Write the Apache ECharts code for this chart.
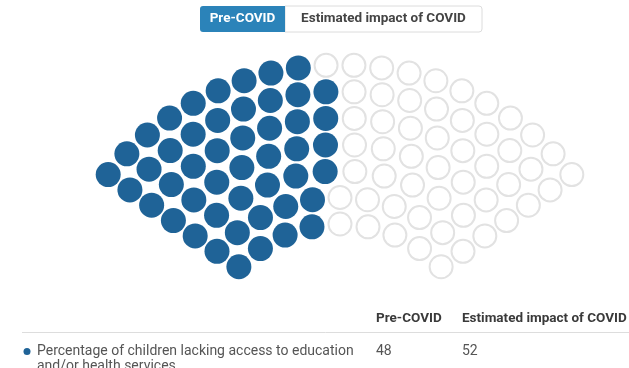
<!DOCTYPE html>
<html>
<head>
<meta charset="utf-8">
<script src="https://cdn.jsdelivr.net/npm/echarts@6/dist/echarts.min.js"></script>
<style>
  html, body { margin: 0; padding: 0; background: #ffffff; }
  #chart { width: 629px; height: 368px; }
</style>
</head>
<body>
<div id="chart"></div>
<script>
// ---- data ----
const categories = ['Pre-COVID', 'Estimated impact of COVID'];
const values = [48, 52];
const indicator = 'Percentage of children lacking access to education and/or health services';

// ---- look ----
const FILL_BLUE = '#1f6397';
const BUTTON_BLUE = '#2b83b9';
const RING_GREY = '#e2e2e2';
const FONT = 'Roboto, "Noto Sans", sans-serif';

// ---- arc layout of the dots (an annular sector of rows) ----
const ROWS = 7;
const OUTER_R = 300;      // radius of the outer row, px
const ROW_GAP = 26.5;     // distance between rows, px
const HALF_SPAN = 54.8;   // half opening angle of the sector, degrees
const EDGE_MARGIN = 22;   // clearance from the sector edges, px

function buildSeats(total) {
  const rows = [];
  for (let k = 0; k < ROWS; k++) {
    const r = OUTER_R - k * ROW_GAP;
    const half = HALF_SPAN - Math.asin(EDGE_MARGIN / r) * 180 / Math.PI;
    rows.push({ r: r, half: half, arc: r * half });
  }
  // share the seats among the rows by arc length (largest remainder)
  const arcSum = rows.reduce((s, o) => s + o.arc, 0);
  rows.forEach(o => { o.quota = o.arc / arcSum * total; o.n = Math.floor(o.quota); });
  let left = total - rows.reduce((s, o) => s + o.n, 0);
  rows.slice().sort((a, b) => (b.quota - b.n) - (a.quota - a.n))
    .slice(0, left).forEach(o => { o.n += 1; });

  const seats = [];
  rows.forEach(o => {
    const step = o.n > 1 ? (2 * o.half) / (o.n - 1) : 0;
    for (let i = 0; i < o.n; i++) {
      seats.push([o.r, o.n > 1 ? -o.half + i * step : 0]);
    }
  });
  // fill from the left edge of the sector to the right
  seats.sort((a, b) => a[1] - b[1] || b[0] - a[0]);
  return seats;
}

const total = values.reduce((a, b) => a + b, 0);
const seats = buildSeats(total);
const preSeats = seats.slice(0, values[0]);
const impactSeats = seats.slice(values[0]);

const chart = echarts.init(document.getElementById('chart'), null, { renderer: 'canvas' });

const option = {
  backgroundColor: '#ffffff',
  animation: false,
  polar: { center: [340, 365], radius: OUTER_R },
  radiusAxis: { type: 'value', min: 0, max: OUTER_R, show: false },
  angleAxis: {
    type: 'value', min: -180, max: 180, startAngle: 270, clockwise: true, show: false
  },
  series: [
    {
      name: categories[0],
      type: 'scatter',
      coordinateSystem: 'polar',
      symbol: 'circle',
      symbolSize: 25,
      itemStyle: { color: FILL_BLUE, opacity: 1 },
      data: preSeats,
      silent: true
    },
    {
      name: categories[1],
      type: 'scatter',
      coordinateSystem: 'polar',
      symbol: 'circle',
      symbolSize: 23,
      itemStyle: { color: '#ffffff', borderColor: RING_GREY, borderWidth: 2, opacity: 1 },
      data: impactSeats,
      silent: true
    }
  ],
  graphic: [
    // toggle buttons
    {
      type: 'rect', shape: { x: 285, y: 6, width: 197, height: 26, r: [0, 3, 3, 0] },
      style: { fill: '#ffffff', stroke: '#dcdcdc', lineWidth: 1 }
    },
    {
      type: 'rect', shape: { x: 200, y: 6, width: 85, height: 26, r: [3, 0, 0, 3] },
      style: { fill: BUTTON_BLUE }
    },
    {
      type: 'text', x: 242.5, y: 19,
      style: { text: categories[0], fill: '#ffffff', font: 'bold 13.5px ' + FONT, align: 'center', verticalAlign: 'middle' }
    },
    {
      type: 'text', x: 383.5, y: 19,
      style: { text: categories[1], fill: '#444444', font: 'bold 13.5px ' + FONT, align: 'center', verticalAlign: 'middle' }
    },
    // table header
    {
      type: 'text', x: 376, y: 319,
      style: { text: categories[0], fill: '#3a3a3a', font: 'bold 13.5px ' + FONT, align: 'left', verticalAlign: 'middle' }
    },
    {
      type: 'text', x: 462, y: 319,
      style: { text: categories[1], fill: '#3a3a3a', font: 'bold 13.5px ' + FONT, align: 'left', verticalAlign: 'middle' }
    },
    {
      type: 'line', shape: { x1: 22, y1: 332.5, x2: 629, y2: 332.5 },
      style: { stroke: '#dddddd', lineWidth: 1 }
    },
    // table row
    {
      type: 'circle', shape: { cx: 27, cy: 351.5, r: 3.5 },
      style: { fill: FILL_BLUE }
    },
    {
      type: 'text', x: 37, y: 343.5,
      style: {
        text: indicator, fill: '#555555', font: '14px ' + FONT,
        width: 330, overflow: 'break', lineHeight: 15, align: 'left', verticalAlign: 'top'
      }
    },
    {
      type: 'text', x: 376, y: 351,
      style: { text: String(values[0]), fill: '#555555', font: '14px ' + FONT, align: 'left', verticalAlign: 'middle' }
    },
    {
      type: 'text', x: 462, y: 351,
      style: { text: String(values[1]), fill: '#555555', font: '14px ' + FONT, align: 'left', verticalAlign: 'middle' }
    }
  ]
};

chart.setOption(option);
</script>
</body>
</html>
